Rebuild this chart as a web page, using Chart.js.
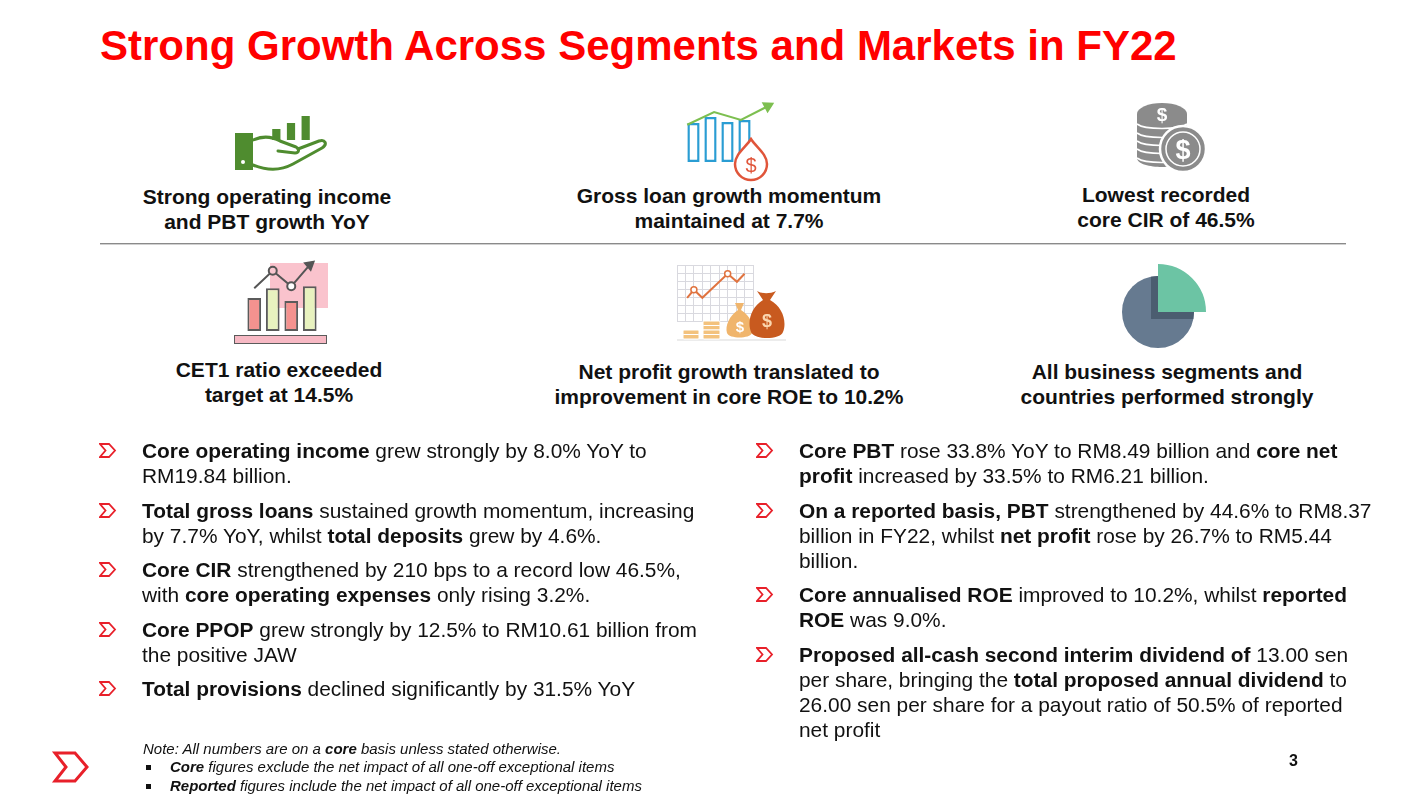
<!DOCTYPE html>
<html>
<head>
<meta charset="utf-8">
<script src="https://cdn.jsdelivr.net/npm/chart.js@4.4.0/dist/chart.umd.min.js"></script>
<style>
  html, body { margin: 0; padding: 0; background: #fff; }
  body { width: 1422px; height: 798px; position: relative; overflow: hidden;
         font-family: Arial, "Liberation Sans", sans-serif; color: #111; }
  .abs { position: absolute; }
  #title { left: 100px; top: 20.5px; font-size: 42px; line-height: 49px; font-weight: bold;
           color: #ff0000; white-space: nowrap; }
  .cap { position: absolute; width: 440px; text-align: center; font-size: 21px; line-height: 25px;
         font-weight: bold; white-space: nowrap; }
  #rule { left: 100px; top: 243px; width: 1246px; height: 1px; background: #8a8a8a;
          border-bottom: 1px solid #d0d0d0; }
  .col { position: absolute; top: 438.2px; font-size: 20.9px; line-height: 25px; white-space: nowrap; }
  .col p { margin: 0 0 9.5px 0; position: relative; }
  .col p svg { position: absolute; left: -43px; top: 5px; }
  #note { left: 143px; top: 739.6px; font-size: 15px; line-height: 18.5px; font-style: italic;
          white-space: nowrap; }
  #note .sq { display: inline-block; width: 5px; height: 5px; background: #111; margin: 0 19px 2px 3px; }
  #page { left: 1289px; top: 751px; font-size: 16px; line-height: 20px; font-weight: bold; }
  canvas { position: absolute; }
</style>
</head>
<body>

<div id="title" class="abs">Strong Growth Across Segments and Markets in FY22</div>

<!-- captions -->
<div class="cap" style="left:47px; top:184.2px;">Strong operating income<br>and PBT growth YoY</div>
<div class="cap" style="left:509px; top:183.2px;">Gross loan growth momentum<br>maintained at 7.7%</div>
<div class="cap" style="left:946px; top:182.2px;">Lowest recorded<br>core CIR of 46.5%</div>
<div id="rule" class="abs"></div>
<div class="cap" style="left:59px; top:357.2px;">CET1 ratio exceeded<br>target at 14.5%</div>
<div class="cap" style="left:509px; top:359.2px;">Net profit growth translated to<br>improvement in core ROE to 10.2%</div>
<div class="cap" style="left:947px; top:359.2px;">All business segments and<br>countries performed strongly</div>

<!-- pink backdrop of the CET1 icon (sits under its chart) -->
<div class="abs" style="left:270px; top:263px; width:58px; height:45px; background:#fac3cd;"></div>
<div class="abs" style="left:234px; top:335px; width:91px; height:7px; background:#f7b9c4; border:1.5px solid #5b5b5b;"></div>

<!-- small icon charts -->
<canvas id="hand_chart" width="44" height="28" style="left:269px; top:112px;"></canvas>
<canvas id="loan_chart" width="68" height="50" style="left:685px; top:112px;"></canvas>
<canvas id="trend_chart" width="95" height="38" style="left:680px; top:97px;"></canvas>
<canvas id="cet1_chart" width="88" height="82" style="left:238px; top:256px;"></canvas>
<canvas id="profit_chart" width="86" height="66" style="left:672px; top:260px;"></canvas>
<canvas id="segment_chart" width="100" height="100" style="left:1108px; top:262px;"></canvas>

<!-- drawn decorations of the icons -->
<svg class="abs" style="left:0; top:0;" width="1422" height="798" viewBox="0 0 1422 798">
  <!-- hand -->
  <rect x="235" y="133" width="18" height="37" fill="#4f8c2f"/>
  <circle cx="243" cy="162" r="2" fill="#fff"/>
  <path d="M253,140 C262,136 271,136 280,141 L296,147 C300,149 299,153 295,153 L278,151"
        fill="none" stroke="#4f8c2f" stroke-width="3" stroke-linecap="round" stroke-linejoin="round"/>
  <path d="M253,165 C268,171 282,170 293,164 L322,148 C328,144 325,139 319,141 L298,149"
        fill="none" stroke="#4f8c2f" stroke-width="3" stroke-linecap="round" stroke-linejoin="round"/>
  <!-- drop with dollar -->
  <path d="M751,139 C756,147 767,154 767,164 A16,16 0 1 1 735,164 C735,154 746,147 751,139 Z"
        fill="#fff" stroke="#e0553a" stroke-width="2.5"/>
  <text x="751" y="172" text-anchor="middle" font-family="Arial, 'Liberation Sans'" font-size="20" fill="#e0553a">$</text>
  <!-- coin stack -->
  <path d="M1137,114 L1137,158 C1137,164 1150,167 1162,167 C1174,167 1187,164 1187,158 L1187,114 Z" fill="#8b8b8b"/>
  <path d="M1137,133 C1145,139 1179,139 1187,133 M1137,141 C1145,147 1179,147 1187,141 M1137,149 C1145,155 1179,155 1187,149 M1137,158 C1145,164 1179,164 1187,158"
        fill="none" stroke="#fff" stroke-width="1.6"/>
  <path d="M1137,124 C1145,130 1179,130 1187,124" fill="none" stroke="#fff" stroke-width="1.6"/>
  <ellipse cx="1162" cy="114" rx="25" ry="11" fill="#8b8b8b"/>
  <text x="1162" y="121" text-anchor="middle" font-family="Arial, 'Liberation Sans'" font-weight="bold" font-size="19" fill="#fff">$</text>
  <circle cx="1183" cy="149" r="23" fill="#8b8b8b" stroke="#fff" stroke-width="2.5"/>
  <circle cx="1183" cy="149" r="17" fill="none" stroke="#fff" stroke-width="1.5"/>
  <text x="1183" y="159" text-anchor="middle" font-family="Arial, 'Liberation Sans'" font-weight="bold" font-size="27" fill="#fff">$</text>
  <!-- coins and money bags -->
  <line x1="677" y1="340" x2="786" y2="340" stroke="#ececec" stroke-width="2"/>
  <g fill="#f3c27d" stroke="#fff" stroke-width="1">
    <rect x="683" y="330" width="16" height="4.5" rx="1"/>
    <rect x="683" y="334.5" width="16" height="4.5" rx="1"/>
    <rect x="703" y="321" width="17" height="4.5" rx="1"/>
    <rect x="703" y="325.5" width="17" height="4.5" rx="1"/>
    <rect x="703" y="330" width="17" height="4.5" rx="1"/>
    <rect x="703" y="334.5" width="17" height="4.5" rx="1"/>
  </g>
  <path d="M735,303 L744,303 L741,310 C751,316 754,326 752,333 C750,339 729,339 727,333 C725,326 729,316 738,310 Z" fill="#f0b56c"/>
  <text x="740" y="332" text-anchor="middle" font-family="Arial, 'Liberation Sans'" font-weight="bold" font-size="15" fill="#fff">$</text>
  <path d="M757,291 C762,294 770,294 776,291 L770,300 C783,307 787,322 783,332 C780,340 754,340 751,332 C747,322 751,307 763,300 Z" fill="#c85a1f"/>
  <text x="767" y="327" text-anchor="middle" font-family="Arial, 'Liberation Sans'" font-weight="bold" font-size="18" fill="#fbd7b0">$</text>
  <!-- logo -->
  <path d="M55,753 L75,753 L87,767 L75,781 L55,781 L66,767 Z" fill="none" stroke="#e8202a" stroke-width="3" stroke-linejoin="miter"/>
</svg>

<!-- bullet columns -->
<div class="col" style="left:142px;">
  <p><svg width="18" height="15"><path d="M1,1 L10,1 L16,7.5 L10,14 L1,14 L6.5,7.5 Z" fill="none" stroke="#e8202a" stroke-width="1.8"/></svg><b>Core operating income</b> grew strongly by 8.0% YoY to<br>RM19.84 billion.</p>
  <p><svg width="18" height="15"><path d="M1,1 L10,1 L16,7.5 L10,14 L1,14 L6.5,7.5 Z" fill="none" stroke="#e8202a" stroke-width="1.8"/></svg><b>Total gross loans</b> sustained growth momentum, increasing<br>by 7.7% YoY, whilst <b>total deposits</b> grew by 4.6%.</p>
  <p><svg width="18" height="15"><path d="M1,1 L10,1 L16,7.5 L10,14 L1,14 L6.5,7.5 Z" fill="none" stroke="#e8202a" stroke-width="1.8"/></svg><b>Core CIR</b> strengthened by 210 bps to a record low 46.5%,<br>with <b>core operating expenses</b> only rising 3.2%.</p>
  <p><svg width="18" height="15"><path d="M1,1 L10,1 L16,7.5 L10,14 L1,14 L6.5,7.5 Z" fill="none" stroke="#e8202a" stroke-width="1.8"/></svg><b>Core PPOP</b> grew strongly by 12.5% to RM10.61 billion from<br>the positive JAW</p>
  <p><svg width="18" height="15"><path d="M1,1 L10,1 L16,7.5 L10,14 L1,14 L6.5,7.5 Z" fill="none" stroke="#e8202a" stroke-width="1.8"/></svg><b>Total provisions</b> declined significantly by 31.5% YoY</p>
</div>
<div class="col" style="left:799px;">
  <p><svg width="18" height="15"><path d="M1,1 L10,1 L16,7.5 L10,14 L1,14 L6.5,7.5 Z" fill="none" stroke="#e8202a" stroke-width="1.8"/></svg><b>Core PBT</b> rose 33.8% YoY to RM8.49 billion and <b>core net<br>profit</b> increased by 33.5% to RM6.21 billion.</p>
  <p><svg width="18" height="15"><path d="M1,1 L10,1 L16,7.5 L10,14 L1,14 L6.5,7.5 Z" fill="none" stroke="#e8202a" stroke-width="1.8"/></svg><b>On a reported basis, PBT</b> strengthened by 44.6% to RM8.37<br>billion in FY22, whilst <b>net profit</b> rose by 26.7% to RM5.44<br>billion.</p>
  <p><svg width="18" height="15"><path d="M1,1 L10,1 L16,7.5 L10,14 L1,14 L6.5,7.5 Z" fill="none" stroke="#e8202a" stroke-width="1.8"/></svg><b>Core annualised ROE</b> improved to 10.2%, whilst <b>reported<br>ROE</b> was 9.0%.</p>
  <p><svg width="18" height="15"><path d="M1,1 L10,1 L16,7.5 L10,14 L1,14 L6.5,7.5 Z" fill="none" stroke="#e8202a" stroke-width="1.8"/></svg><b>Proposed all-cash second interim dividend of</b> 13.00 sen<br>per share, bringing the <b>total proposed annual dividend</b> to<br>26.00 sen per share for a payout ratio of 50.5% of reported<br>net profit</p>
</div>

<div id="note" class="abs">Note: All numbers are on a <b>core</b> basis unless stated otherwise.<br>
  <span class="sq"></span><b>Core</b> figures exclude the net impact of all one-off exceptional items<br>
  <span class="sq"></span><b>Reported</b> figures include the net impact of all one-off exceptional items</div>
<div id="page" class="abs">3</div>

<script>
// icon data (icon units)
const handLabels = ["b1", "b2", "b3"];
const handBars = [11, 17, 24];

const loanLabels = ["q1", "q2", "q3", "q4"];
const loanBars = [39, 45, 40, 42];
const loanTrend = [3, 16, 8, 22];

const cet1Labels = ["c1", "c2", "c3", "c4"];
const cet1Bars = [34, 44, 31, 46];
const cet1Line = [44, 62, 46, 68];

const profitX = [1.2, 2, 3, 6, 7.1, 8];
const profitY = [2.9, 3.9, 2.9, 5.9, 4.9, 5.9];

const segmentLabels = ["s1", "s2", "s3", "s4"];
const segmentGrey = [36, 36, 36, 36];
const segmentGreen = [48, 0, 0, 0];

Chart.defaults.animation = false;
Chart.defaults.responsive = false;
Chart.defaults.plugins.legend.display = false;
Chart.defaults.plugins.tooltip.enabled = false;

function hiddenScales(ymax) {
    return {
        x: { display: false },
        y: { display: false, min: 0, max: ymax },
    };
}

function drawIcons() {
    new Chart(document.getElementById("hand_chart"), {
        type: "bar",
        data: {
            labels: handLabels,
            datasets: [{ data: handBars, backgroundColor: "#4f8c2f",
                         categoryPercentage: 1, barPercentage: 0.56 }],
        },
        options: { layout: { padding: 0 }, scales: hiddenScales(28) },
    });

    new Chart(document.getElementById("loan_chart"), {
        type: "bar",
        data: {
            labels: loanLabels,
            datasets: [{ data: loanBars, backgroundColor: "#fff", borderColor: "#2a9dd3",
                         borderWidth: 2.5, borderSkipped: false,
                         categoryPercentage: 1, barPercentage: 0.72 }],
        },
        options: { layout: { padding: 0 }, scales: hiddenScales(50) },
    });

    new Chart(document.getElementById("trend_chart"), {
        type: "line",
        data: {
            labels: loanLabels,
            datasets: [{ data: loanTrend, borderColor: "#7dbf50", borderWidth: 2.2,
                         pointRadius: [0, 0, 0, 5], pointStyle: "triangle", pointRotation: 62,
                         pointBackgroundColor: "#7dbf50", pointBorderColor: "#7dbf50",
                         clip: false, tension: 0 }],
        },
        options: { layout: { padding: { left: 7, right: 7, top: 7, bottom: 7 } },
                   scales: hiddenScales(24) },
    });

    new Chart(document.getElementById("cet1_chart"), {
        data: {
            labels: cet1Labels,
            datasets: [
                { type: "line", data: cet1Line, borderColor: "#555", borderWidth: 2,
                  pointRadius: [0, 4, 4, 5], pointStyle: ["circle", "circle", "circle", "triangle"],
                  pointRotation: [0, 0, 0, 50], pointBorderWidth: 2,
                  pointBackgroundColor: ["#f9c6cf", "#f9c6cf", "#fff", "#555"],
                  pointBorderColor: "#555", clip: false, order: 0 },
                { type: "bar", data: cet1Bars,
                  backgroundColor: ["#f4928f", "#e8f2bf", "#f4928f", "#e8f2bf"],
                  borderColor: "#5b5b5b", borderWidth: 2, borderSkipped: false,
                  categoryPercentage: 1, barPercentage: 0.74, order: 1 },
            ],
        },
        options: { layout: { padding: 6 }, scales: hiddenScales(70) },
    });

    const gridOpts = { color: "#d9d9df", lineWidth: 1, drawTicks: false };
    new Chart(document.getElementById("profit_chart"), {
        type: "line",
        data: {
            datasets: [{ data: profitX.map((x, i) => ({ x: x, y: profitY[i] })),
                         borderColor: "#e0733f", borderWidth: 2, tension: 0,
                         pointRadius: [0, 3, 0, 3, 0, 0], pointBorderWidth: 1.5,
                         pointBackgroundColor: "#fff", pointBorderColor: "#e0733f" }],
        },
        options: {
            layout: { padding: 5 },
            scales: {
                x: { type: "linear", min: 0, max: 9, ticks: { display: false, stepSize: 1 },
                     grid: gridOpts, border: { display: false } },
                y: { type: "linear", min: 0, max: 7, ticks: { display: false, stepSize: 1 },
                     grid: gridOpts, border: { display: false } },
            },
        },
    });

    // dark copy of the green slice, shifted down-left and kept inside the grey disc
    const sliceShadow = {
        id: "sliceShadow",
        afterDatasetDraw(chart, args) {
            if (args.index !== 1) return;
            const r = chart.scales.r;
            const green = chart.getDatasetMeta(0).data[0];
            const ctx = chart.ctx;
            ctx.save();
            ctx.beginPath();
            ctx.arc(r.xCenter, r.yCenter, r.getDistanceFromCenterForValue(segmentGrey[0]), 0, Math.PI * 2);
            ctx.clip();
            ctx.translate(-7, 7);
            const bg = green.options.backgroundColor;
            green.options.backgroundColor = "#4b5d70";
            green.draw(ctx);
            green.options.backgroundColor = bg;
            ctx.restore();
        },
    };

    new Chart(document.getElementById("segment_chart"), {
        type: "polarArea",
        data: {
            labels: segmentLabels,
            datasets: [
                { data: segmentGreen, backgroundColor: "#6cc4a4", borderWidth: 0 },
                { data: segmentGrey, backgroundColor: "#667a90", borderWidth: 0 },
            ],
        },
        options: {
            layout: { padding: 0 },
            scales: { r: { display: false, min: 0, max: 50 } },
        },
        plugins: [sliceShadow],
    });
}

drawIcons();
</script>
</body>
</html>
